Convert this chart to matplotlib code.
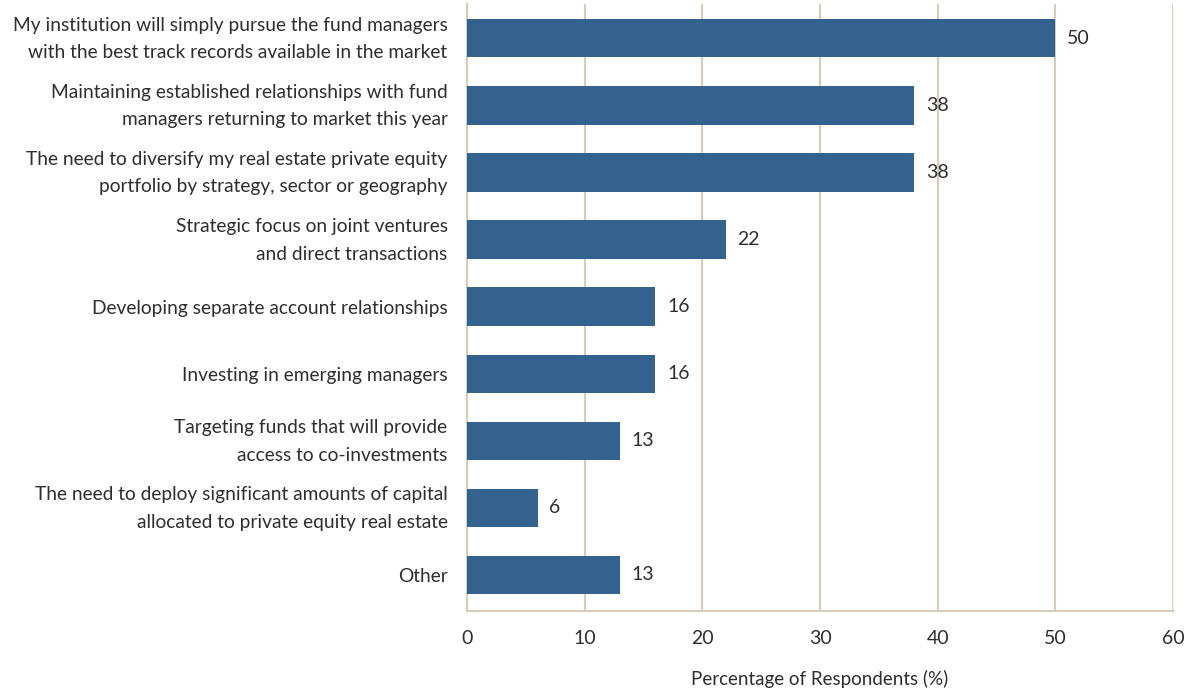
import matplotlib.pyplot as plt
from matplotlib.transforms import ScaledTranslation

plt.rcParams['font.family'] = ['Lato', 'DejaVu Sans']

labels = [
    "My institution will simply pursue the fund managers\nwith the best track records available in the market",
    "Maintaining established relationships with fund\nmanagers returning to market this year",
    "The need to diversify my real estate private equity\nportfolio by strategy, sector or geography",
    "Strategic focus on joint ventures\nand direct transactions",
    "Developing separate account relationships",
    "Investing in emerging managers",
    "Targeting funds that will provide\naccess to co-investments",
    "The need to deploy significant amounts of capital\nallocated to private equity real estate",
    "Other",
]
values = [50, 38, 38, 22, 16, 16, 13, 6, 13]
xticks = [0, 10, 20, 30, 40, 50, 60]

bar_color = '#33628f'
grid_color = '#d5ccb9'
text_color = '#2e2e2e'

fig = plt.figure(figsize=(12.02, 6.92), dpi=100)
ax = fig.add_axes([0.3885, 0.117, 0.5874, 0.877])

pos = list(range(len(labels)))
ax.barh(pos, values, height=0.57, color=bar_color, zorder=3)

for p, v in zip(pos, values):
    ax.text(v + 1.0, p, str(v), va='center', ha='left', fontsize=14, color=text_color)

ax.set_xlim(0, 60)
ax.set_ylim(8.54, -0.51)
ax.set_xticks(xticks)
ax.set_yticks(pos)
ax.set_yticklabels(labels, fontsize=13.8, color=text_color, linespacing=1.75)
ax.tick_params(axis='x', labelsize=14, colors=text_color, length=0, pad=14)
ax.tick_params(axis='y', length=0, pad=14)

# two-line labels sit a little low, nudge them up
shift = ScaledTranslation(0, 6 / 100, fig.dpi_scale_trans)
for t in ax.get_yticklabels():
    if '\n' in t.get_text():
        t.set_transform(t.get_transform() + shift)

ax.grid(axis='x', color=grid_color, linewidth=1.5, zorder=0)
for s in ['top', 'right']:
    ax.spines[s].set_visible(False)
for s in ['left', 'bottom']:
    ax.spines[s].set_color(grid_color)
    ax.spines[s].set_linewidth(1.5)

ax.set_xlabel('Percentage of Respondents (%)', fontsize=13.5, color=text_color, labelpad=16)

fig.savefig('out.png', dpi=100)
